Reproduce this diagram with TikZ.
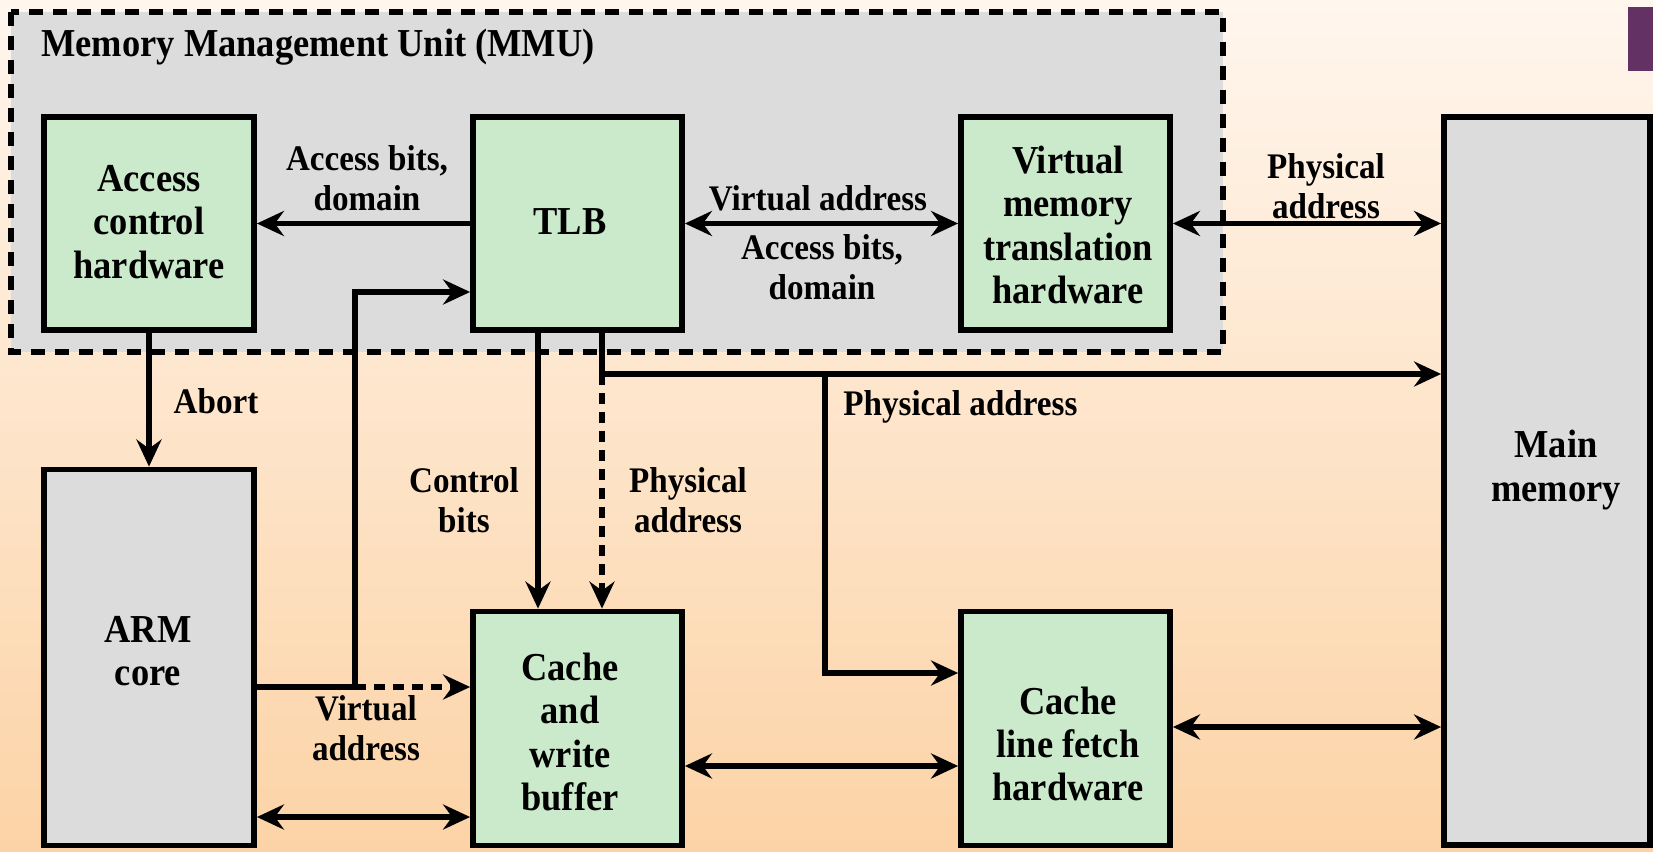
\documentclass[tikz,border=0pt]{standalone}
\usepackage{fontspec}
\setmainfont[FakeStretch=0.92]{Liberation Serif}
\usetikzlibrary{arrows.meta}
\definecolor{bgtop}{HTML}{FFF6EE}
\definecolor{bgbot}{HTML}{FCD3A6}
\definecolor{mmugray}{HTML}{DCDCDC}
\definecolor{boxgreen}{HTML}{CBEACB}
\definecolor{boxgray}{HTML}{DCDCDC}
\definecolor{corner}{HTML}{633163}
\tikzset{
  gbox/.style={draw=black, line width=2.9pt, fill=boxgreen, inner sep=0pt},
  ybox/.style={draw=black, line width=2.9pt, fill=boxgray, inner sep=0pt},
  btxt/.style={font=\fontsize{19.8}{21.6}\selectfont\bfseries, align=center, inner sep=0pt},
  ltxt/.style={font=\fontsize{18}{19.8}\selectfont\bfseries, align=center, inner sep=0pt},
  conn/.style={line width=2.6pt},
  arr/.style={line width=2.6pt, -{Stealth[length=13.5pt,width=12.5pt,inset=4.5pt]}},
  darr/.style={line width=2.6pt, {Stealth[length=13.5pt,width=12.5pt,inset=4.5pt]}-{Stealth[length=13.5pt,width=12.5pt,inset=4.5pt]}},
  dsh/.style={dash pattern=on 5.5pt off 4pt},
}
\begin{document}
\begin{tikzpicture}[x=0.5pt,y=-0.5pt]
\useasboundingbox (0,0) rectangle (1653,851);
\shade[top color=bgtop, bottom color=bgbot] (0,0) rectangle (1653,851);
\fill[corner] (1628,7) rectangle (1653,71);
% MMU region
\draw[fill=mmugray, line width=2.7pt, dash pattern=on 7pt off 5pt] (11,12) rectangle (1223,352);
\node[anchor=west, btxt] (title) at (41,47) {Memory Management Unit (MMU)};
% boxes
\node[gbox, minimum width=105pt, minimum height=106.5pt] (acc) at (149,223.5) {};
\node[gbox, minimum width=104.5pt, minimum height=106.5pt] (tlb) at (577.5,223.5) {};
\node[gbox, minimum width=104.5pt, minimum height=106.5pt] (vmt) at (1065.5,223.5) {};
\node[ybox, minimum width=103pt, minimum height=364pt] (mm) at (1547,481) {};
\node[ybox, minimum width=105pt, minimum height=188pt] (arm) at (149,657.5) {};
\node[gbox, minimum width=104.5pt, minimum height=117pt] (cwb) at (577.5,728.5) {};
\node[gbox, minimum width=104.5pt, minimum height=117pt] (clf) at (1065.5,728.5) {};
% box texts
\node[btxt] (acct) at (149,222) {Access\\control\\hardware};
\node[btxt] (tlbt) at (570,222) {TLB};
\node[btxt] (vmtt) at (1068,225) {Virtual\\memory\\translation\\hardware};
\node[btxt] (mmt) at (1556,470) {Main\\memory};
\node[btxt] (armt) at (148,651) {ARM\\core};
\node[btxt] (cwbt) at (570,732) {Cache\\and\\write\\buffer};
\node[btxt] (clft) at (1068,744) {Cache\\line fetch\\hardware};
% coordinates
\coordinate (j1) at (355,687);
\coordinate (j2) at (355,292);
\coordinate (p1) at (602,374);
\coordinate (p2) at (825,374);
% connectors
\draw[arr] (tlb.west) -- (acc.east);
\draw[darr] (tlb.east) -- (vmt.west);
\draw[darr] (vmt.east) -- (vmt.east -| mm.west);
\draw[arr] (acc.south) -- (arm.north);
\draw[arr] (arm.east |- j1) -- (j1) -- (j2) -- (tlb.west |- j2);
\draw[arr, dsh] (j1) -- (cwb.west |- j1);
\draw[darr] (arm.east |- 0,817) -- (cwb.west |- 0,817);
\draw[arr] (tlb.south -| 538,0) -- (cwb.north -| 538,0);
\draw[conn] (tlb.south -| p1) -- (p1);
\draw[arr, dsh] (p1) -- (cwb.north -| p1);
\draw[arr] (p1) -- (p1 -| mm.west);
\draw[arr] (p2) |- (clf.west |- 0,673);
\draw[darr] (cwb.east |- 0,766) -- (clf.west |- 0,766);
\draw[darr] (clf.east |- 0,727) -- (mm.west |- 0,727);
% labels
\node[ltxt] (l1) at (367,178) {Access bits,\\domain};
\node[ltxt] (l2) at (818,198) {Virtual address};
\node[ltxt] (l3) at (822,267) {Access bits,\\domain};
\node[ltxt] (l4) at (1326,186) {Physical\\address};
\node[ltxt] (l5) at (216,401) {Abort};
\node[ltxt] (l6) at (464,500) {Control\\bits};
\node[ltxt] (l7) at (688,500) {Physical\\address};
\node[ltxt, anchor=west] (l8) at (843,407) {Physical address};
\node[ltxt] (l9) at (366,728) {Virtual\\address};
\end{tikzpicture}
\end{document}
